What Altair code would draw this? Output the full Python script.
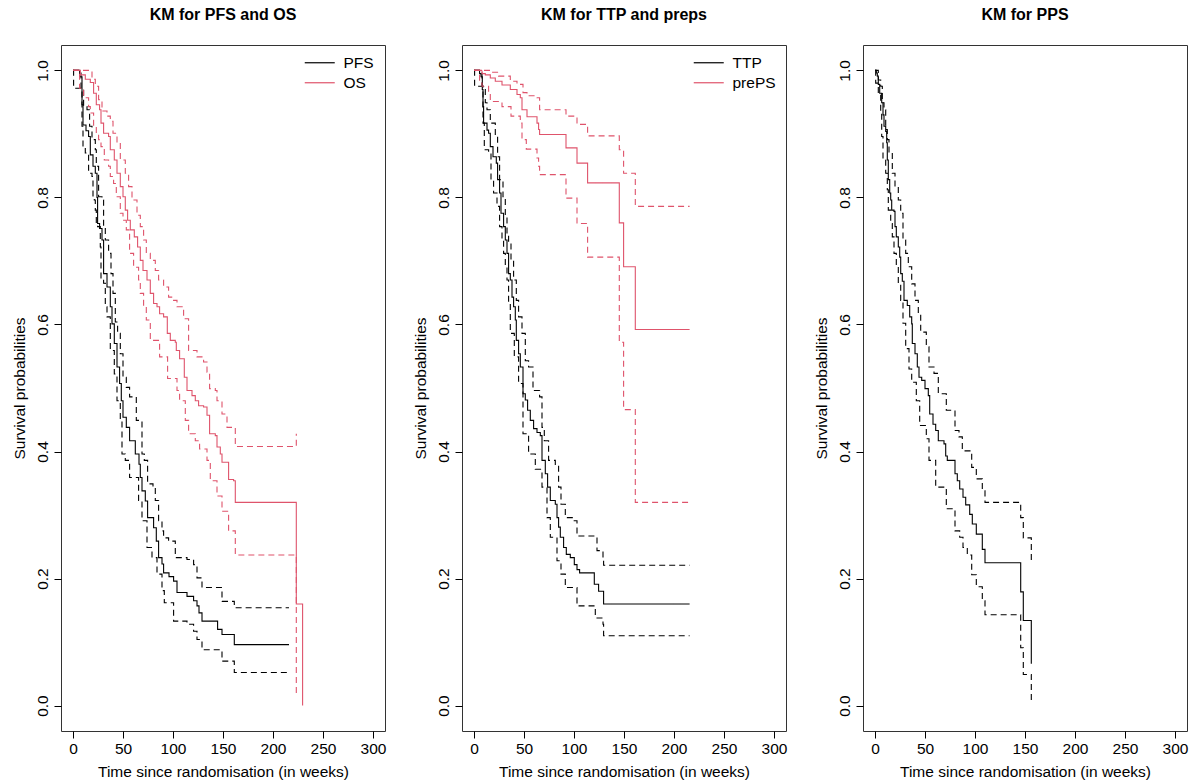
import altair as alt
import pandas as pd

# ---------------------------------------------------------------------------
# Kaplan-Meier estimates (time in weeks, survival probability after each step)
# ---------------------------------------------------------------------------

# PFS
pfs_t = [0, 6.6, 9, 10, 13, 15.6, 17.3, 20, 22.3, 24, 24.6, 26.6, 29, 30.6, 34, 37.3, 39, 41.3,
         44, 46.6, 48.3, 50, 53.3, 56.6, 62.3, 66, 67.3, 69, 72.3, 74.6, 80.6, 83.3, 85.6, 89,
         90.6, 96, 100.6, 104, 114, 120.6, 124, 126, 129, 144.6, 149, 161.3, 216]
pfs_s = [1.0, 0.99, 0.946, 0.914, 0.905, 0.896, 0.867, 0.849, 0.838, 0.80, 0.759, 0.751, 0.733,
         0.68, 0.659, 0.628, 0.601, 0.570, 0.533, 0.507, 0.48, 0.454, 0.438, 0.417, 0.396, 0.38,
         0.359, 0.338, 0.322, 0.296, 0.28, 0.259, 0.233, 0.223, 0.209, 0.203, 0.196, 0.178, 0.172,
         0.165, 0.157, 0.146, 0.133, 0.12, 0.112, 0.096, 0.096]
pfs_hi_t = [0, 8, 10.6, 14, 16.6, 19, 22.3, 23.3, 25.6, 29, 30.6, 32.3, 35.6, 38, 40, 42.3, 44.6,
            47.3, 50, 53.3, 56.6, 63.3, 69, 71.3, 74.6, 80, 82.3, 85.6, 89, 90.6, 95.6, 102.3, 114,
            120.6, 124, 129, 149, 161.3, 216]
pfs_hi = [1.0, 0.97, 0.943, 0.938, 0.912, 0.891, 0.875, 0.849, 0.801, 0.796, 0.754, 0.733, 0.712,
          0.68, 0.649, 0.604, 0.586, 0.554, 0.517, 0.501, 0.486, 0.449, 0.396, 0.386, 0.349, 0.344,
          0.323, 0.291, 0.275, 0.264, 0.259, 0.233, 0.230, 0.222, 0.201, 0.186, 0.164, 0.154, 0.154]
pfs_lo_t = [0, 0.6, 9, 10, 12.3, 15.6, 19, 20, 21.3, 22.3, 23.3, 24.6, 27.3, 28, 30.6, 32.3, 34,
            37.3, 41.3, 44, 47.3, 49, 52.3, 56.6, 65.6, 69, 74, 79, 84, 89, 91.3, 100.6, 114,
            120.6, 124, 129, 149, 161.3, 216]
pfs_lo = [1.0, 0.972, 0.912, 0.880, 0.870, 0.838, 0.833, 0.801, 0.796, 0.780, 0.759, 0.754, 0.722,
          0.672, 0.665, 0.628, 0.612, 0.559, 0.522, 0.480, 0.449, 0.396, 0.386, 0.359, 0.323,
          0.291, 0.249, 0.233, 0.207, 0.181, 0.162, 0.133, 0.128, 0.117, 0.104, 0.088, 0.070,
          0.052, 0.052]

# OS
os_t = [0, 7.3, 12.3, 17.3, 20.6, 23.3, 26.6, 28, 30.6, 35.6, 37.3, 41.3, 44, 47.3, 50, 52.3,
        54.6, 57.3, 61.3, 64.6, 67.3, 70, 74, 77.3, 80.6, 84, 86.6, 90.6, 94.3, 97.3, 102.3,
        103.3, 106.6, 111.3, 114, 119, 122.3, 125.6, 130.6, 134, 136.6, 142.3, 144, 147.3, 149,
        155.6, 160.6, 162.3, 223.3, 229.6]
os_s = [1.0, 0.993, 0.986, 0.981, 0.964, 0.946, 0.938, 0.917, 0.901, 0.896, 0.875, 0.859, 0.838,
        0.817, 0.801, 0.780, 0.764, 0.749, 0.738, 0.722, 0.701, 0.685, 0.670, 0.649, 0.633, 0.628,
        0.617, 0.612, 0.586, 0.575, 0.572, 0.559, 0.546, 0.517, 0.496, 0.488, 0.480, 0.472, 0.470,
        0.457, 0.428, 0.425, 0.407, 0.396, 0.383, 0.356, 0.354, 0.320, 0.160, 0.0]
os_hi_t = [0, 19, 22.3, 25.6, 29, 34, 37.3, 40, 44, 47.3, 52.3, 55.6, 59, 64, 67.3, 70.6, 73.3,
           77.3, 82.3, 85.6, 90.6, 95.6, 100.6, 104, 110.6, 115.6, 124, 130.6, 134, 136.6, 142.3,
           144, 149, 154, 162.3, 223.3]
os_hi = [1.0, 0.986, 0.975, 0.954, 0.936, 0.928, 0.920, 0.901, 0.886, 0.859, 0.838, 0.817, 0.796,
         0.772, 0.754, 0.733, 0.712, 0.701, 0.685, 0.670, 0.659, 0.643, 0.638, 0.628, 0.609, 0.559,
         0.549, 0.541, 0.525, 0.499, 0.496, 0.480, 0.459, 0.438, 0.408, 0.428]
os_lo_t = [0, 6.6, 10.6, 15.6, 17.3, 20.6, 23.3, 25.6, 28, 31.3, 35.6, 37.3, 40.6, 43.3, 47.3, 50,
           53.3, 56.6, 60.6, 65.6, 67.3, 70.6, 73.3, 77.3, 86.6, 94.6, 104, 106.6, 112.3, 115.6,
           122.3, 126.6, 134, 137.3, 144, 149, 155.6, 162.3, 223.3]
os_lo = [1.0, 0.972, 0.957, 0.943, 0.933, 0.912, 0.901, 0.891, 0.880, 0.859, 0.849, 0.833, 0.822,
         0.801, 0.775, 0.764, 0.749, 0.712, 0.690, 0.670, 0.649, 0.628, 0.607, 0.575, 0.549, 0.515,
         0.496, 0.480, 0.449, 0.428, 0.417, 0.404, 0.386, 0.354, 0.330, 0.306, 0.275, 0.237, 0.017]

# TTP
ttp_t = [0, 5.6, 7, 8.3, 9, 9.6, 13, 14.6, 16.3, 19, 22.3, 23.6, 25.6, 27, 29.6, 31.3, 33, 34.6,
         36.3, 38, 39.6, 41.3, 42.3, 44.6, 46.3, 49, 51.3, 53.6, 56.3, 59.6, 63, 66.3, 68, 71.3,
         73.6, 76.3, 81.3, 83, 84.6, 86.3, 89.6, 92.3, 96.3, 100.3, 103, 105.6, 120.3, 124.6,
         129.6, 215.6]
ttp_s = [1.0, 0.995, 0.99, 0.97, 0.943, 0.917, 0.906, 0.901, 0.880, 0.864, 0.854, 0.828, 0.807,
         0.775, 0.754, 0.733, 0.712, 0.680, 0.670, 0.643, 0.628, 0.607, 0.575, 0.554, 0.533, 0.491,
         0.481, 0.465, 0.449, 0.436, 0.430, 0.425, 0.386, 0.365, 0.344, 0.323, 0.317, 0.296, 0.281,
         0.265, 0.249, 0.238, 0.233, 0.222, 0.214, 0.209, 0.191, 0.180, 0.160, 0.160]
ttp_hi_t = [0, 8, 11.3, 13, 16.3, 21.3, 23.6, 25.6, 29, 31.3, 33, 34.6, 37, 39.6, 42.3, 44.6, 48,
            51.3, 54.6, 59, 65.6, 68, 70.3, 74.6, 81.3, 84.6, 87, 91.3, 99.6, 103, 123, 129, 129.6,
            215.6]
ttp_hi = [1.0, 0.975, 0.949, 0.938, 0.917, 0.896, 0.864, 0.828, 0.801, 0.770, 0.743, 0.730, 0.701,
          0.670, 0.638, 0.612, 0.586, 0.543, 0.533, 0.496, 0.486, 0.438, 0.417, 0.386, 0.378,
          0.344, 0.317, 0.296, 0.291, 0.267, 0.244, 0.230, 0.221, 0.221]
ttp_lo_t = [0, 0.6, 9, 10.3, 14.6, 17, 19.6, 23, 25.6, 28, 29.6, 31.3, 33, 34.6, 36.3, 40.3, 44.6,
            49, 54.6, 61.3, 68, 73, 76.3, 83, 87, 91.3, 103, 121.3, 129, 129.6, 215.6]
ttp_lo = [1.0, 0.975, 0.917, 0.875, 0.870, 0.828, 0.807, 0.786, 0.754, 0.733, 0.712, 0.691, 0.670,
          0.633, 0.586, 0.549, 0.507, 0.428, 0.396, 0.372, 0.344, 0.296, 0.265, 0.228, 0.207,
          0.186, 0.157, 0.138, 0.128, 0.110, 0.110]

# prePS
preps_t = [0, 8, 11.3, 16.3, 21.3, 28, 36.3, 43, 46.3, 48, 53, 63, 64.6, 65.6, 92, 103, 113.6,
           145.3, 149.6, 161.3, 215.6]
preps_s = [1.0, 0.995, 0.993, 0.988, 0.983, 0.977, 0.970, 0.962, 0.957, 0.938, 0.927, 0.917, 0.907,
           0.899, 0.878, 0.854, 0.823, 0.760, 0.691, 0.592, 0.592]
preps_hi_t = [0, 16.3, 24.6, 36.3, 43, 49, 53, 63, 65.6, 92, 103, 113.6, 145.3, 149.6, 161.3, 215.6]
preps_hi = [1.0, 0.997, 0.991, 0.983, 0.978, 0.965, 0.960, 0.957, 0.938, 0.928, 0.915, 0.897,
            0.875, 0.838, 0.786, 0.786]
preps_lo_t = [0, 5.6, 8, 14.6, 16.3, 28, 37, 46.3, 48, 52.3, 63, 64.6, 65.6, 92, 103, 113.6,
              145.3, 149.6, 161.3, 215.6]
preps_lo = [1.0, 0.980, 0.975, 0.965, 0.951, 0.943, 0.928, 0.917, 0.891, 0.876, 0.862, 0.849,
            0.836, 0.799, 0.759, 0.706, 0.572, 0.466, 0.320, 0.320]

# PPS
pps_t = [0, 1.3, 2.3, 3.3, 4.7, 6.7, 8, 9, 10.7, 11.7, 12.3, 13.3, 14.7, 15.7, 16.7, 19, 20, 21.3,
         23.3, 24.7, 25.7, 27.3, 29, 32.3, 34.7, 36.7, 37.3, 40, 42.3, 44, 46.7, 50, 53.3, 54.7,
         58, 60.7, 63.3, 69, 70.7, 72.3, 80, 82.3, 84.7, 88, 90.7, 94.7, 97.3, 101.3, 107.3, 110,
         145.7, 148.3, 156.3]
pps_s = [1.0, 0.996, 0.991, 0.978, 0.964, 0.949, 0.930, 0.912, 0.904, 0.886, 0.859, 0.828, 0.807,
         0.796, 0.780, 0.778, 0.754, 0.738, 0.722, 0.706, 0.680, 0.668, 0.638, 0.630, 0.612, 0.601,
         0.570, 0.554, 0.533, 0.517, 0.512, 0.499, 0.488, 0.459, 0.443, 0.433, 0.417, 0.412, 0.393,
         0.386, 0.365, 0.354, 0.341, 0.328, 0.316, 0.301, 0.286, 0.270, 0.246, 0.225, 0.179, 0.134,
         0.066]
pps_hi_t = [0, 3.3, 5.7, 7.3, 9, 10.7, 12.3, 14, 17.3, 20, 23.3, 25.7, 28, 30.7, 33.3, 36.7, 40,
            43.3, 45.7, 51.3, 54, 59, 63.3, 71.3, 80, 84, 87.3, 96.7, 101.3, 107.3, 110, 145.7,
            148.3, 156.3]
pps_hi = [1.0, 0.985, 0.975, 0.949, 0.938, 0.907, 0.891, 0.870, 0.838, 0.817, 0.796, 0.775, 0.733,
          0.712, 0.691, 0.664, 0.638, 0.617, 0.588, 0.565, 0.533, 0.523, 0.491, 0.465, 0.433,
          0.423, 0.401, 0.375, 0.357, 0.338, 0.320, 0.296, 0.264, 0.228]
pps_lo_t = [0, 0.7, 3.3, 5.7, 6.7, 8, 10.7, 12.3, 13.3, 15.7, 17.3, 19, 21.3, 23.3, 25.7, 28, 30.7,
            34, 36.7, 41.3, 44.7, 51.3, 54, 60.7, 71.3, 80, 84.7, 88, 92.3, 96.7, 101.3, 107.3, 110,
            145.7, 148.3, 156.3]
pps_lo = [1.0, 0.980, 0.964, 0.933, 0.896, 0.859, 0.838, 0.812, 0.780, 0.759, 0.738, 0.712, 0.691,
          0.664, 0.638, 0.602, 0.562, 0.530, 0.509, 0.480, 0.441, 0.420, 0.386, 0.344, 0.310,
          0.275, 0.265, 0.249, 0.237, 0.206, 0.187, 0.165, 0.143, 0.091, 0.049, 0.009]

FONT = "Liberation Sans"
BLACK = "#000000"
RED = "#DF536B"
X_TICKS = [0, 50, 100, 150, 200, 250, 300]
Y_TICKS = [0.0, 0.2, 0.4, 0.6, 0.8, 1.0]
# Wide horizontal line used as the legend key (path units are scaled by sqrt(size)/2)
LEGEND_LINE = "M-2.5,0H2.5"


def curve(series, band, times, values):
    return pd.DataFrame({"series": series, "band": band, "t": times, "s": values,
                         "i": list(range(len(times)))})


def km_panel(frames, title, names, colors, legend_x=None):
    df = pd.concat(frames, ignore_index=True)
    if legend_x is not None:
        legend = alt.Legend(title=None, orient="none", legendX=legend_x, legendY=10, padding=0,
                            symbolType=LEGEND_LINE, symbolSize=144, symbolStrokeWidth=1.2,
                            labelFont=FONT, labelFontSize=15.5, labelColor="black",
                            labelOffset=16, rowPadding=3)
    else:
        legend = None
    return (
        alt.Chart(df, title=alt.Title(title, font=FONT, fontSize=16, fontWeight="bold",
                                      color="black", anchor="middle", baseline="alphabetic",
                                      offset=9))
        .mark_line(interpolate="step-after", strokeWidth=1.1)
        .encode(
            x=alt.X("t:Q",
                    scale=alt.Scale(domain=[-12, 312], nice=False, zero=False),
                    axis=alt.Axis(values=X_TICKS, format="d",
                                  title="Time since randomisation (in weeks)",
                                  labelPadding=3, titlePadding=8)),
            y=alt.Y("s:Q",
                    scale=alt.Scale(domain=[-0.04, 1.04], nice=False, zero=False),
                    axis=alt.Axis(values=Y_TICKS, format=".1f", title="Survival probabilities",
                                  labelAngle=270, labelAlign="center", labelBaseline="bottom",
                                  labelPadding=4, titlePadding=8)),
            color=alt.Color("series:N", scale=alt.Scale(domain=names, range=colors),
                            legend=legend),
            strokeDash=alt.StrokeDash("band:N",
                                      scale=alt.Scale(domain=["est", "lower", "upper"],
                                                      range=[[1, 0], [6, 4], [6, 4]]),
                                      legend=None),
            detail="band:N",
            order="i:Q",
        )
        .properties(width=324, height=686)
    )


p1 = km_panel([
    curve("PFS", "est", pfs_t, pfs_s),
    curve("PFS", "upper", pfs_hi_t, pfs_hi),
    curve("PFS", "lower", pfs_lo_t, pfs_lo),
    curve("OS", "est", os_t, os_s),
    curve("OS", "upper", os_hi_t, os_hi),
    curve("OS", "lower", os_lo_t, os_lo),
], "KM for PFS and OS", ["PFS", "OS"], [BLACK, RED], legend_x=251)

p2 = km_panel([
    curve("TTP", "est", ttp_t, ttp_s),
    curve("TTP", "upper", ttp_hi_t, ttp_hi),
    curve("TTP", "lower", ttp_lo_t, ttp_lo),
    curve("prePS", "est", preps_t, preps_s),
    curve("prePS", "upper", preps_hi_t, preps_hi),
    curve("prePS", "lower", preps_lo_t, preps_lo),
], "KM for TTP and preps", ["TTP", "prePS"], [BLACK, RED], legend_x=239)

p3 = km_panel([
    curve("PPS", "est", pps_t, pps_s),
    curve("PPS", "upper", pps_hi_t, pps_hi),
    curve("PPS", "lower", pps_lo_t, pps_lo),
], "KM for PPS", ["PPS"], [BLACK])

chart = (
    alt.hconcat(p1, p2, p3, spacing=77, bounds="flush")
    .resolve_scale(color="independent", strokeDash="independent")
    .properties(padding={"left": 11, "top": 6, "right": 5, "bottom": 5}, background="white")
    .configure_view(stroke="#333333", strokeWidth=1)
    .configure_axis(labelFont=FONT, titleFont=FONT, labelFontSize=15.5, titleFontSize=15.5,
                    titleFontWeight="normal", labelColor="black", titleColor="black",
                    tickColor="black", tickSize=7, tickWidth=1, domain=False, grid=False)
)

chart.save("out.html", embed_options={"renderer": "svg", "actions": False})
